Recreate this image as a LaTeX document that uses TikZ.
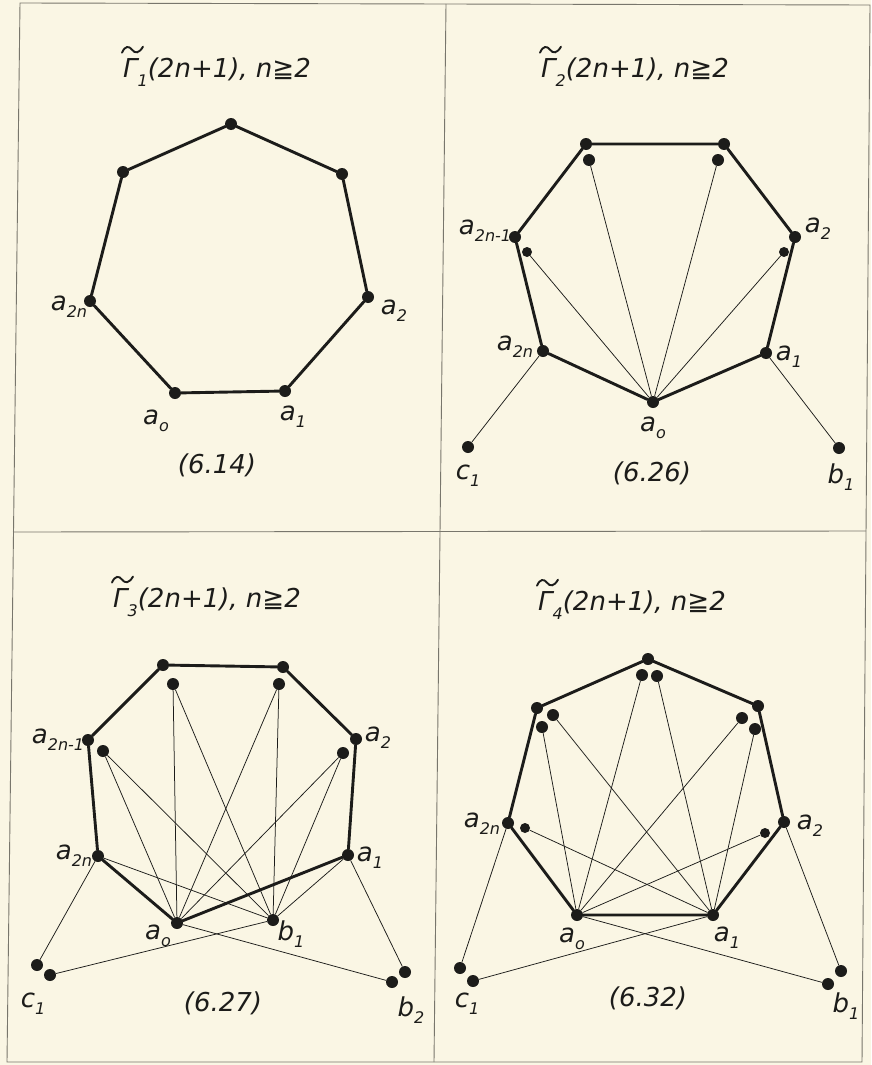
\documentclass[tikz,border=0pt]{standalone}
\usepackage{fontspec}
\usetikzlibrary{calc}
\setmainfont{DejaVu Sans}
\definecolor{paper}{RGB}{250,246,228}
\definecolor{ink}{RGB}{28,28,26}
\definecolor{rule}{RGB}{120,118,108}
\newcommand\sub[2]{#1\raisebox{-0.5ex}{\fontsize{16}{16}\selectfont #2}}
\newcommand\ttext[1]{Γ\raisebox{-0.6ex}{\fontsize{16}{16}\selectfont #1}(2n+1), n≧2}
\newcommand\tildeover[1]{%
  \coordinate (#1s) at ([xshift=-1pt,yshift=8pt]#1.north west);
  \draw[tw] ($(#1s)+(0,3)$) .. controls ($(#1s)+(3,-4)$) and ($(#1s)+(7,-4)$) .. ($(#1s)+(10,0)$)
     .. controls ($(#1s)+(13,4)$) and ($(#1s)+(17,4)$) .. ($(#1s)+(21,-3)$);}
\tikzset{
  v/.style={circle,fill=ink,inner sep=0pt,minimum size=12pt},
  vi/.style={circle,fill=ink,inner sep=0pt,minimum size=10pt},
  tk/.style={line width=2.9pt,ink,line cap=round},
  tn/.style={line width=0.75pt,ink},
  tw/.style={line width=1.9pt,ink,line cap=round},
  lbl/.style={font=\fontsize{26}{26}\selectfont\itshape,inner sep=0pt,text=ink},
  ttl/.style={font=\fontsize{26}{30}\selectfont\itshape,inner sep=0pt,text=ink},
  num/.style={font=\fontsize{26}{30}\selectfont\itshape,inner sep=0pt,text=ink},
  frm/.style={line width=0.9pt,rule}
}
\begin{document}
\begin{tikzpicture}[x=1pt,y=-1pt]
\fill[paper] (0,0) rectangle (871,1065);
\useasboundingbox (0,0) rectangle (871,1065);
% frame
\coordinate (fTL) at (20,3);
\coordinate (fTR) at (870,5);
\coordinate (fBL) at (7,1062);
\coordinate (fBR) at (862,1062);
\coordinate (fTM) at (446,4);
\coordinate (fBM) at (434,1062);
\coordinate (fML) at (13,532);
\coordinate (fMR) at (866,531);
\draw[frm] (fTL) -- (fTR) -- (fBR) -- (fBL) -- cycle;
\draw[frm] (fTM) -- (fBM);
\draw[frm] (fML) -- (fMR);

% ---------- Panel 1 ----------
\node[ttl] (t1) at (217,72) {\ttext{1}};
\tildeover{t1}
\node[v] (A0) at (175,393) {};
\node[v] (A1) at (285,391) {};
\node[v] (A2) at (368,297) {};
\node[v] (AUR) at (342,174) {};
\node[v] (AT) at (231,124) {};
\node[v] (AUL) at (123,172) {};
\node[v] (A2n) at (90,301) {};
\draw[tk] (A0) -- (A1) -- (A2) -- (AUR) -- (AT) -- (AUL) -- (A2n) -- (A0);
\node[lbl] (lA2n) at (69,307) {\sub{a}{2n}};
\node[lbl] (lA2) at (394,311) {\sub{a}{2}};
\node[lbl] (lA0) at (156,421) {\sub{a}{o}};
\node[lbl] (lA1) at (293,417) {\sub{a}{1}};
\node[num] (n1) at (217,465) {(6.14)};

% ---------- Panel 2 ----------
\node[ttl] (t2) at (635,72) {\ttext{2}};
\tildeover{t2}
\node[v] (B0) at (653,402) {};
\node[v] (B1) at (766,353) {};
\node[v] (B2) at (795,237) {};
\node[v] (BTR) at (724,144) {};
\node[v] (BTL) at (586,144) {};
\node[v] (B2m) at (515,237) {};
\node[v] (B2n) at (543,351) {};
\node[v] (BiTL) at (589,160) {};
\node[v] (BiTR) at (718,160) {};
\node[vi] (BiL) at (527,252) {};
\node[vi] (BiR) at (784,252) {};
\node[v] (Bc1) at (468,447) {};
\node[v] (Bb1) at (839,448) {};
\draw[tk] (B0) -- (B1) -- (B2) -- (BTR) -- (BTL) -- (B2m) -- (B2n) -- (B0);
\draw[tn] (B0) -- (BiTL);
\draw[tn] (B0) -- (BiTR);
\draw[tn] (B0) -- (BiL);
\draw[tn] (B0) -- (BiR);
\draw[tn] (B2n) -- (Bc1);
\draw[tn] (B1) -- (Bb1);
\node[lbl] (lB2m) at (485,231) {\sub{a}{2n-1}};
\node[lbl] (lB2) at (818,229) {\sub{a}{2}};
\node[lbl] (lB2n) at (515,347) {\sub{a}{2n}};
\node[lbl] (lB1) at (789,357) {\sub{a}{1}};
\node[lbl] (lB0) at (653,428) {\sub{a}{o}};
\node[lbl] (lBc1) at (468,476) {\sub{c}{1}};
\node[lbl] (lBb1) at (841,477) {\sub{b}{1}};
\node[num] (n2) at (652,473) {(6.26)};

% ---------- Panel 3 ----------
\node[ttl] (t3) at (207,602) {\ttext{3}};
\tildeover{t3}
\node[v] (C0) at (177,923) {};
\node[v] (Cb1) at (273,920) {};
\node[v] (C1) at (348,855) {};
\node[v] (C2) at (356,739) {};
\node[v] (CTR) at (283,667) {};
\node[v] (CTL) at (163,665) {};
\node[v] (C2m) at (88,740) {};
\node[v] (C2n) at (98,856) {};
\node[v] (CiTL) at (173,684) {};
\node[v] (CiTR) at (279,684) {};
\node[v] (CiL) at (103,751) {};
\node[v] (CiR) at (343,753) {};
\node[v] (Cc1a) at (37,965) {};
\node[v] (Cc1b) at (50,975) {};
\node[v] (Cb2a) at (405,972) {};
\node[v] (Cb2b) at (392,982) {};
\draw[tk] (C0) -- (C1) -- (C2) -- (CTR) -- (CTL) -- (C2m) -- (C2n) -- (C0);
\foreach \u in {CiTL,CiTR,CiL,CiR} {
  \draw[tn] (\u) -- (C0);
  \draw[tn] (\u) -- (Cb1);
}
\draw[tn] (C2n) -- (Cb1);
\draw[tn] (C1) -- (Cb1);
\draw[tn] (C2n) -- (Cc1a);
\draw[tn] (Cb1) -- (Cc1b);
\draw[tn] (C1) -- (Cb2a);
\draw[tn] (C0) -- (Cb2b);
\node[lbl] (lC2m) at (58,740) {\sub{a}{2n-1}};
\node[lbl] (lC2) at (378,738) {\sub{a}{2}};
\node[lbl] (lC2n) at (74,856) {\sub{a}{2n}};
\node[lbl] (lC1) at (370,858) {\sub{a}{1}};
\node[lbl] (lC0) at (158,936) {\sub{a}{o}};
\node[lbl] (lCb1) at (291,934) {\sub{b}{1}};
\node[lbl] (lCc1) at (33,1004) {\sub{c}{1}};
\node[lbl] (lCb2) at (411,1010) {\sub{b}{2}};
\node[num] (n3) at (223,1003) {(6.27)};

% ---------- Panel 4 ----------
\node[ttl] (t4) at (632,605) {\ttext{4}};
\tildeover{t4}
\node[v] (D0) at (577,915) {};
\node[v] (D1) at (713,915) {};
\node[v] (D2) at (784,822) {};
\node[v] (DUR) at (758,706) {};
\node[v] (DT) at (648,659) {};
\node[v] (DUL) at (537,708) {};
\node[v] (D2n) at (508,823) {};
\node[v] (DiTL) at (642,675) {};
\node[v] (DiTR) at (657,676) {};
\node[v] (DiULa) at (553,715) {};
\node[v] (DiULb) at (542,727) {};
\node[v] (DiURa) at (742,718) {};
\node[v] (DiURb) at (755,729) {};
\node[vi] (DiL) at (525,828) {};
\node[vi] (DiR) at (765,833) {};
\node[v] (Dc1a) at (460,968) {};
\node[v] (Dc1b) at (473,981) {};
\node[v] (Db1a) at (841,971) {};
\node[v] (Db1b) at (828,984) {};
\draw[tk] (D0) -- (D1) -- (D2) -- (DUR) -- (DT) -- (DUL) -- (D2n) -- (D0);
\draw[tn] (DiTL) -- (D0);
\draw[tn] (DiTR) -- (D1);
\draw[tn] (DiULa) -- (D1);
\draw[tn] (DiULb) -- (D0);
\draw[tn] (DiURa) -- (D0);
\draw[tn] (DiURb) -- (D1);
\draw[tn] (DiL) -- (D1);
\draw[tn] (DiR) -- (D0);
\draw[tn] (D2n) -- (Dc1a);
\draw[tn] (D2) -- (Db1a);
\draw[tn] (D0) -- (Db1b);
\draw[tn] (D1) -- (Dc1b);
\node[lbl] (lD2n) at (482,824) {\sub{a}{2n}};
\node[lbl] (lD2) at (810,826) {\sub{a}{2}};
\node[lbl] (lD0) at (572,939) {\sub{a}{o}};
\node[lbl] (lD1) at (727,938) {\sub{a}{1}};
\node[lbl] (lDc1) at (467,1004) {\sub{c}{1}};
\node[lbl] (lDb1) at (846,1006) {\sub{b}{1}};
\node[num] (n4) at (648,998) {(6.32)};
\end{tikzpicture}
\end{document}
